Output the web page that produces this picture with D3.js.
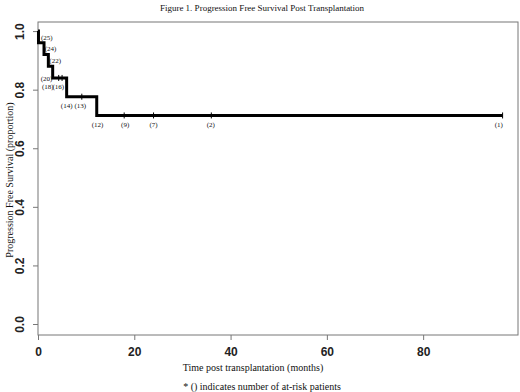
<!DOCTYPE html>
<html>
<head>
<meta charset="utf-8">
<script src="https://cdn.jsdelivr.net/npm/d3@7"></script>
<style>
    body { margin: 0; background: #fff; }
    .serif { font-family: 'Liberation Serif', 'Times New Roman', serif; fill: #111; }
    .tick-label { font-family: 'Liberation Sans', Arial, sans-serif; font-weight: bold; font-size: 12px; fill: #222; }
</style>
</head>
<body>
<svg width="520" height="392"></svg>
<script>
// Kaplan-Meier step values (months, proportion)
const stepTimes = [0, 0.1, 1.25, 2.15, 3.05, 5.95, 12.2, 96.5];
const stepSurv = [1.0, 0.96, 0.92, 0.88, 0.84, 0.776, 0.712, 0.712];

// censored observations
const censorTimes = [4.3, 5.0, 9.1, 17.9, 24.0, 36.0, 96.5];

// at-risk labels
const riskLabels = ['(25)', '(24)', '(22)', '(20)', '(18)', '(16)', '(14)', '(13)', '(12)', '(9)', '(7)', '(2)', '(1)'];
const riskTimes = [1.83, 2.59, 3.57, 1.77, 2.03, 4.2, 5.96, 8.78, 12.36, 18.1, 24.0, 35.9, 95.7];
const riskLevels = [0.979, 0.941, 0.901, 0.839, 0.81, 0.81, 0.747, 0.747, 0.682, 0.682, 0.682, 0.682, 0.682];

const xTicks = [0, 20, 40, 60, 80];
const yTicks = [0, 0.2, 0.4, 0.6, 0.8, 1.0];

const chartTitle = 'Figure 1. Progression Free Survival Post Transplantation';
const xAxisLabel = 'Time post transplantation (months)';
const yAxisLabel = 'Progression Free Survival (proportion)';
const footNote = '* () indicates number of at-risk patients';

const svg = d3.select('svg');
const box = { left: 38, right: 518, top: 22, bottom: 335 };

const xScale = d3.scaleLinear()
    .domain([0, 99.7])
    .range([box.left, box.right]);

const yScale = d3.scaleLinear()
    .domain([-0.0375, 1.031])
    .range([box.bottom, box.top]);

const data = stepTimes.map((t, i) => ({ t, s: stepSurv[i] }));
const survAt = t => {
    let s = stepSurv[0];
    stepTimes.forEach((st, i) => { if (st <= t) s = stepSurv[i]; });
    return s;
};

// plot box
svg.append('rect')
    .attr('x', box.left)
    .attr('y', box.top)
    .attr('width', box.right - box.left)
    .attr('height', box.bottom - box.top)
    .attr('fill', 'none')
    .attr('stroke', '#777')
    .attr('stroke-width', 1);

// x axis
const xAxisG = svg.append('g')
    .attr('transform', `translate(0, ${box.bottom})`)
    .call(d3.axisBottom(xScale).tickValues(xTicks).tickSize(5).tickPadding(7).tickFormat(d3.format('d')));
xAxisG.select('.domain').remove();
xAxisG.selectAll('line').attr('stroke', '#777');
xAxisG.selectAll('text').attr('class', 'tick-label');

// y axis
const yAxisG = svg.append('g')
    .attr('transform', `translate(${box.left}, 0)`)
    .call(d3.axisLeft(yScale).tickValues(yTicks).tickSize(5).tickFormat(d3.format('.1f')));
yAxisG.select('.domain').remove();
yAxisG.selectAll('line').attr('stroke', '#777');
yAxisG.selectAll('text')
    .attr('class', 'tick-label')
    .attr('x', 0)
    .attr('dy', 0)
    .attr('transform', 'translate(-14, 0) rotate(-90)')
    .style('text-anchor', 'middle');

// survival curve
const lineGenerator = d3.line()
    .x(d => xScale(d.t))
    .y(d => yScale(d.s))
    .curve(d3.curveStepAfter);

svg.append('path')
    .attr('d', lineGenerator(data))
    .attr('fill', 'none')
    .attr('stroke', '#000')
    .attr('stroke-width', 3);

// censor marks
svg.selectAll('.censor')
    .data(censorTimes)
    .enter().append('line')
    .attr('class', 'censor')
    .attr('x1', d => xScale(d))
    .attr('x2', d => xScale(d))
    .attr('y1', d => yScale(survAt(d)) - 3)
    .attr('y2', d => yScale(survAt(d)) + 3)
    .attr('stroke', '#000')
    .attr('stroke-width', 1);

// at-risk labels
svg.selectAll('.risk')
    .data(riskLabels)
    .enter().append('text')
    .attr('class', 'serif risk')
    .attr('x', (d, i) => xScale(riskTimes[i]))
    .attr('y', (d, i) => yScale(riskLevels[i]))
    .attr('dy', '0.35em')
    .style('text-anchor', 'middle')
    .style('font-size', '7px')
    .text(d => d);

// texts
svg.append('text')
    .attr('class', 'serif')
    .attr('x', 262)
    .attr('y', 11)
    .style('text-anchor', 'middle')
    .style('font-size', '9px')
    .text(chartTitle);

svg.append('text')
    .attr('class', 'serif')
    .attr('x', 253)
    .attr('y', 371)
    .style('text-anchor', 'middle')
    .style('font-size', '10px')
    .text(xAxisLabel);

svg.append('text')
    .attr('class', 'serif')
    .attr('x', 262)
    .attr('y', 390)
    .style('text-anchor', 'middle')
    .style('font-size', '10px')
    .text(footNote);

svg.append('text')
    .attr('class', 'serif')
    .attr('transform', 'translate(13, 180) rotate(-90)')
    .style('text-anchor', 'middle')
    .style('font-size', '10px')
    .text(yAxisLabel);
</script>
</body>
</html>
